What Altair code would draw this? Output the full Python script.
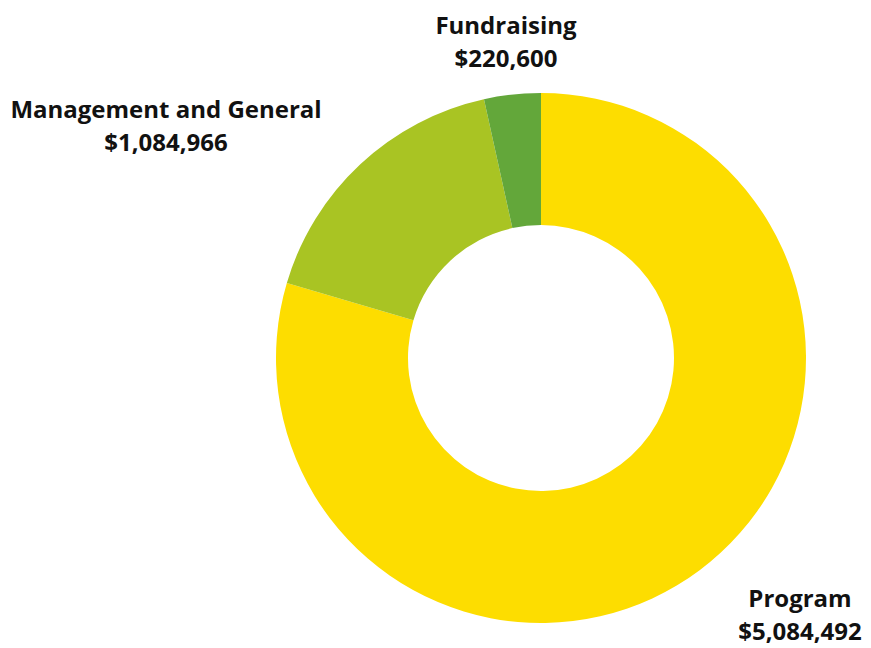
import altair as alt
import pandas as pd

categories = ["Program", "Management and General", "Fundraising"]
amounts = [5084492, 1084966, 220600]
colors = ["#FDDD00", "#A9C423", "#63A73A"]

df = pd.DataFrame({
    "category": categories,
    "amount": amounts,
    "order": list(range(len(categories))),
})
df["label"] = df["category"] + "\n$" + df["amount"].map(lambda v: f"{v:,}")

W, H = 855, 640
cx, cy = 533, 350

base = alt.Chart(df)

arcs = base.mark_arc(innerRadius=133, outerRadius=265).encode(
    theta=alt.Theta("amount:Q", stack=True),
    order=alt.Order("order:Q"),
    color=alt.Color("category:N", scale=alt.Scale(domain=categories, range=colors), legend=None),
    x=alt.value(cx),
    y=alt.value(cy),
)

text_style = dict(lineBreak="\n", lineHeight=33, baseline="middle", align="center",
                  fontSize=24, fontWeight="bold", font="Open Sans", color="#111111")

label_pos = {
    "Fundraising": (498, 19),
    "Management and General": (158, 103),
    "Program": (792, 592),
}

labels = []
for cat in categories:
    px, py = label_pos[cat]
    labels.append(
        base.transform_filter(alt.datum.category == cat)
        .mark_text(**text_style)
        .encode(text="label:N", x=alt.value(px), y=alt.value(py))
    )

chart = alt.layer(arcs, *labels).properties(width=W, height=H, padding=0).configure_view(stroke=None)

chart.save("out.html", embed_options={"renderer": "svg", "actions": False})
